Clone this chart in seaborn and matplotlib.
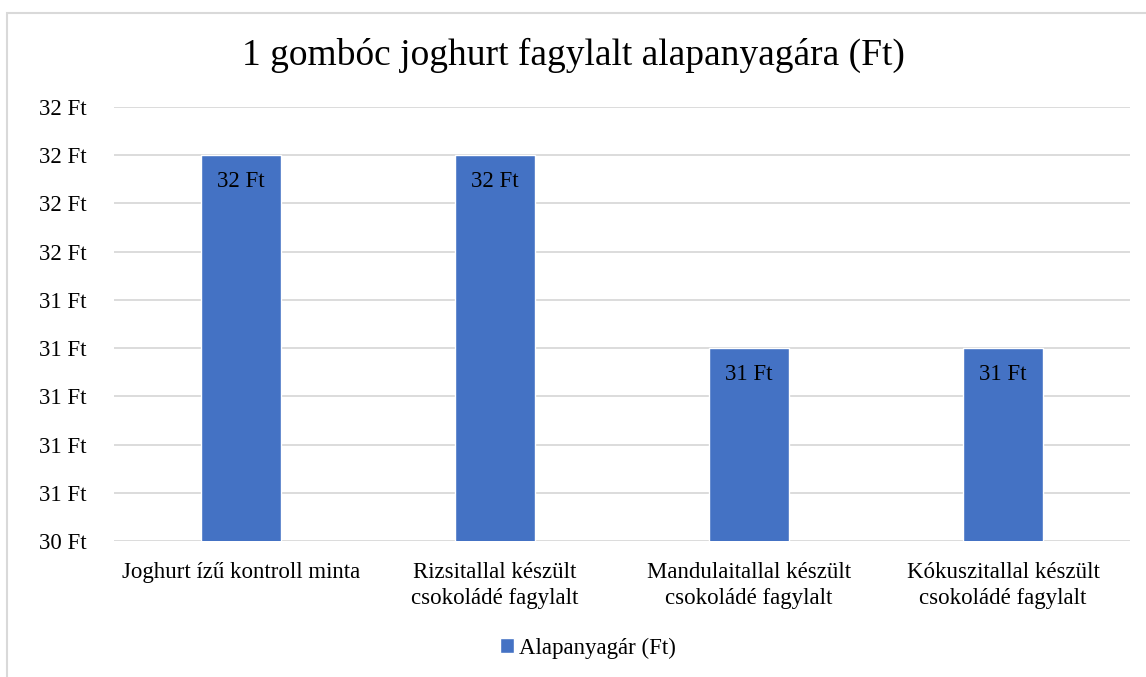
from matplotlib import pyplot as plt
from matplotlib.patches import Rectangle
from matplotlib.ticker import MultipleLocator, FuncFormatter
import seaborn as sns

CATEGORIES = ["Joghurt ízű kontroll minta",
              "Rizsitallal készült\ncsokoládé fagylalt",
              "Mandulaitallal készült\ncsokoládé fagylalt",
              "Kókuszitallal készült\ncsokoládé fagylalt"]
PRICES = [32.0, 32.0, 31.2, 31.2]
SERIES = "Alapanyagár (Ft)"
TITLE = "1 gombóc joghurt fagylalt alapanyagára (Ft)"

sns.set_style("white")
plt.rcParams['font.family'] = ['Liberation Serif', 'DejaVu Serif']
plt.rcParams['text.color'] = 'black'

fig = plt.figure(figsize=(11.46, 6.77), dpi=100)
ax = fig.add_axes([114 / 1146, 1 - 541 / 677, (1130 - 114) / 1146, (541 - 107) / 677])

sns.barplot(x=CATEGORIES, y=PRICES, color="#4472C4", width=0.315,
            saturation=1, ax=ax, label=SERIES, zorder=3)

ax.set_ylim(30.4, 32.2)
ax.yaxis.set_major_locator(MultipleLocator(0.2))
ax.yaxis.set_major_formatter(FuncFormatter(lambda v, p: f"{v:.0f} Ft"))
ax.grid(axis='y', color='#D9D9D9', linewidth=1.3, zorder=0)
ax.set_axisbelow(True)
for s in ax.spines.values():
    s.set_visible(False)
ax.tick_params(axis='both', length=0, labelsize=16.5, colors='black')
ax.tick_params(axis='y', pad=20)
ax.tick_params(axis='x', pad=15)

for lbl in ax.get_xticklabels():
    lbl.set_linespacing(1.3)

# data labels just inside the top of each bar
for bar, v in zip(ax.patches, PRICES):
    ax.annotate(f"{v:.0f} Ft", (bar.get_x() + bar.get_width() / 2, v),
                xytext=(0, -26), textcoords='offset pixels',
                ha='center', va='center', fontsize=16.5, color='black')

fig.suptitle(TITLE, y=1 - 55 / 677, va='center', fontsize=27, color='black')

h, l = ax.get_legend_handles_labels()
if ax.get_legend():
    ax.get_legend().remove()
fig.legend(h, l, loc='center', bbox_to_anchor=(588 / 1146, 1 - 648 / 677),
           frameon=False, fontsize=16.5, handlelength=0.6, handleheight=0.6,
           handletextpad=0.2)

fig.patches.append(Rectangle((7 / 1146, -0.05), 1.1, 1 - 13 / 677 + 0.05,
                             transform=fig.transFigure, fill=False,
                             edgecolor='#D9D9D9', linewidth=1.5))

fig.savefig('out.png', dpi=100)
